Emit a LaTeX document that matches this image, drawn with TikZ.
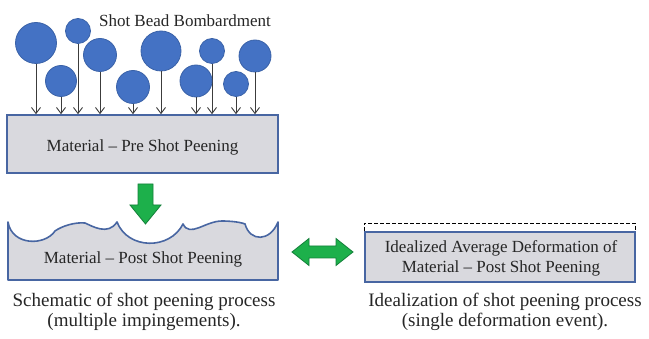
\documentclass[tikz,border=0pt]{standalone}
\usepackage{fontspec}
\setmainfont{Liberation Serif}
\newfontfamily\labelface{Liberation Serif}
\usetikzlibrary{arrows.meta,calc}
\definecolor{beadblue}{HTML}{4472C4}
\definecolor{beadedge}{HTML}{3A62A8}
\definecolor{boxgrey}{HTML}{D9D9DE}
\definecolor{boxedge}{HTML}{4866A2}
\definecolor{flowgreen}{HTML}{1DB04B}
\definecolor{flowedge}{HTML}{14803A}
\definecolor{inkgrey}{HTML}{262626}
\tikzset{
  bead/.style={circle, fill=beadblue, draw=beadedge, line width=0.8pt, inner sep=0pt, minimum size=#1},
  impact/.style={draw=inkgrey!90, line width=0.9pt, -{Straight Barb[length=6pt,width=9pt]}},
  matbox/.style={fill=boxgrey, draw=boxedge, line width=1.6pt},
  boxtext/.style={text=inkgrey, font=\labelface\fontsize{17}{20}\selectfont, align=center},
  captext/.style={text=inkgrey, font=\labelface\fontsize{19}{19.5}\selectfont, align=center},
  flow/.style={fill=flowgreen, draw=flowedge, line width=0.8pt, line join=miter},
}
\begin{document}
\begin{tikzpicture}[x=1pt, y=-1pt]
\useasboundingbox (0,0) rectangle (649,339);
\fill[white] (0,0) rectangle (649,339);

% material before peening
\node[matbox, minimum width=271pt, minimum height=58pt, inner sep=0pt] (pre) at (142.5,144) {};
\node[boxtext] (pretext) at (142.5,147) {Material – Pre Shot Peening};

% shot beads and their impacts
\foreach \n/\cx/\cy/\r in {1/36/43/20.5, 2/78/31/12.5, 3/61/81/15.5, 4/100/55/16.5, 5/133/87/16.5,
                           6/161/51/20, 7/212/51/12.5, 8/196/81/16, 9/236/84/12.5, 10/255/56/16}{
  \node[bead=2*\r pt] (b\n) at (\cx,\cy) {};
  \draw[impact] (b\n.south) -- (b\n.south |- pre.north);
}
\node[boxtext] (title) at (185,21) {Shot Bead Bombardment};

% material after peening, with the dented surface
\coordinate (postNW) at (8,222);
\coordinate (postNE) at (278,222);
\draw[matbox, line join=round] (postNW)
  .. controls (12,246) and (45,246) .. (55,231)
  .. controls (62,226) and (75,222) .. (85,223)
  .. controls (92,226) and (108,236) .. (117,222)
  .. controls (128,250) and (170,250) .. (183,224)
  .. controls (190,238) and (205,221) .. (222,221)
  .. controls (230,221) and (240,222) .. (245,224)
  .. controls (250,242) and (270,242) .. (postNE)
  -- (278,280) -- (8,280) -- cycle;
\node[boxtext] (posttext) at (143,259) {Material – Post Shot Peening};

% idealised layer
\node[matbox, minimum width=270pt, minimum height=50pt, inner sep=0pt] (ideal) at (500,257) {};
\draw[black, line width=0.9pt, dash pattern=on 4pt off 2pt] (ideal.north west) -- ++(0,-8) -- ($(ideal.north east)+(0,-8)$) -- (ideal.north east);
\node[boxtext] (idealtext) at (501,258.5) {Idealized Average Deformation of\\Material – Post Shot Peening};

% process arrows
\draw[flow] (138,184) -- (153,184) -- (153,205) -- (161,205) -- (145.5,224) -- (130,205) -- (138,205) -- cycle;
\draw[flow] (292,252) -- (309,238.5) -- (309,246) -- (336,246) -- (336,238.5) -- (353,252)
  -- (336,265.5) -- (336,258) -- (309,258) -- (309,265.5) -- cycle;

% captions
\node[captext] (capL) at (144,312) {Schematic of shot peening process\\(multiple impingements).};
\node[captext] (capR) at (505,312) {Idealization of shot peening process\\(single deformation event).};
\end{tikzpicture}
\end{document}
